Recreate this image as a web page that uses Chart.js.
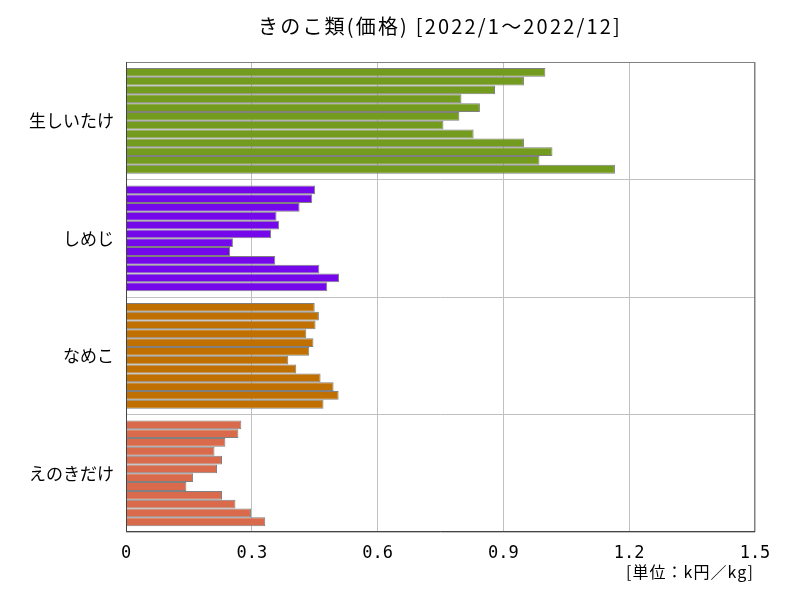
<!DOCTYPE html>
<html>
<head>
<meta charset="utf-8">
<script src="https://cdn.jsdelivr.net/npm/chart.js@4"></script>
<style>
  html, body { margin: 0; padding: 0; background: #fff; }
  #wrap { width: 800px; height: 600px; }
</style>
</head>
<body>
<div id="wrap"><canvas id="kinoko_Chart" width="800" height="600"></canvas></div>
<script>
// 品目
const categories = ['生しいたけ', 'しめじ', 'なめこ', 'えのきだけ'];
// 月 (2022/1 ～ 2022/12)
const months = ['1月', '2月', '3月', '4月', '5月', '6月', '7月', '8月', '9月', '10月', '11月', '12月'];
// 価格 (k円/kg)
const shiitake = [1.000, 0.949, 0.880, 0.800, 0.844, 0.795, 0.757, 0.829, 0.949, 1.017, 0.986, 1.166];
const shimeji  = [0.451, 0.444, 0.414, 0.359, 0.365, 0.346, 0.255, 0.248, 0.356, 0.461, 0.508, 0.480];
const nameko   = [0.450, 0.460, 0.452, 0.430, 0.447, 0.437, 0.387, 0.406, 0.464, 0.495, 0.507, 0.471];
const enoki    = [0.275, 0.268, 0.237, 0.211, 0.229, 0.217, 0.160, 0.144, 0.229, 0.261, 0.298, 0.332];
const xTicks = [0, 0.3, 0.6, 0.9, 1.2, 1.5];

const barColors = ['#739b1e', '#7408ea', '#c07000', '#d96a4c'];
const FONT = "'Noto Sans CJK JP', 'DejaVu Sans', sans-serif";
const MONO = "'DejaVu Sans Mono', monospace";

const series = [shiitake, shimeji, nameko, enoki];
const datasets = months.map((m, i) => ({
    label: m,
    data: series.map(s => s[i]),
    backgroundColor: barColors,
    borderColor: '#808080',
    borderWidth: 1,
    barPercentage: 1.0,
    categoryPercentage: 0.9
}));

// 幅を合わせて文字を描く
function fitText(ctx, text, x, y, width) {
    ctx.letterSpacing = '0px';
    const w = ctx.measureText(text).width;
    const sp = (width - w) / text.length;
    ctx.letterSpacing = sp.toFixed(2) + 'px';
    ctx.fillText(text, x, y);
    ctx.letterSpacing = '0px';
}

// タイトルと単位
const textPlugin = {
    id: 'textPlugin',
    afterDraw(chart) {
        const { ctx, chartArea } = chart;
        ctx.save();
        ctx.fillStyle = '#000';
        ctx.textBaseline = 'middle';
        ctx.font = '20px ' + FONT;
        ctx.textAlign = 'left';
        fitText(ctx, 'きのこ類(価格) [2022/1～2022/12]', 258, 26, 364);
        ctx.font = '16px ' + FONT;
        fitText(ctx, '[単位：k円／kg]', 626, 572, 128);
        // 枠
        ctx.strokeStyle = '#808080';
        ctx.lineWidth = 1;
        ctx.strokeRect(chartArea.left + 0.5, chartArea.top + 0.5, chartArea.right - chartArea.left - 1, chartArea.bottom - chartArea.top - 1);
        ctx.strokeStyle = '#444';
        ctx.beginPath();
        ctx.moveTo(chartArea.left + 0.5, chartArea.top);
        ctx.lineTo(chartArea.left + 0.5, chartArea.bottom - 0.5);
        ctx.lineTo(chartArea.right, chartArea.bottom - 0.5);
        ctx.stroke();
        ctx.restore();
    }
};

const ctx_kinoko = document.getElementById('kinoko_Chart').getContext('2d');
new Chart(ctx_kinoko, {
    type: 'bar',
    data: {
        labels: categories,
        datasets: datasets
    },
    options: {
        indexAxis: 'y',
        responsive: false,
        animation: false,
        layout: {
            padding: { top: 62, right: 45, left: 0, bottom: 0 }
        },
        plugins: {
            legend: { display: false },
            title: { display: false },
            tooltip: { enabled: false }
        },
        scales: {
            x: {
                min: 0,
                max: 1.5,
                afterFit: (scale) => { scale.height = 68; },
                afterBuildTicks: (scale) => {
                    scale.ticks = xTicks.map(v => ({ value: v }));
                },
                grid: {
                    color: '#c0c0c0',
                    drawTicks: false
                },
                border: { display: false },
                ticks: {
                    padding: 11,
                    color: '#000',
                    font: { family: MONO, size: 17 },
                    callback: (value) => value === 0 ? '0' : value.toFixed(1)
                }
            },
            y: {
                afterFit: (scale) => { scale.width = 126; },
                grid: {
                    color: '#c0c0c0',
                    drawTicks: false,
                    offset: true
                },
                border: { display: false },
                ticks: {
                    padding: 12,
                    color: '#000',
                    font: { family: FONT, size: 17 }
                }
            }
        }
    },
    plugins: [textPlugin]
});
</script>
</body>
</html>
